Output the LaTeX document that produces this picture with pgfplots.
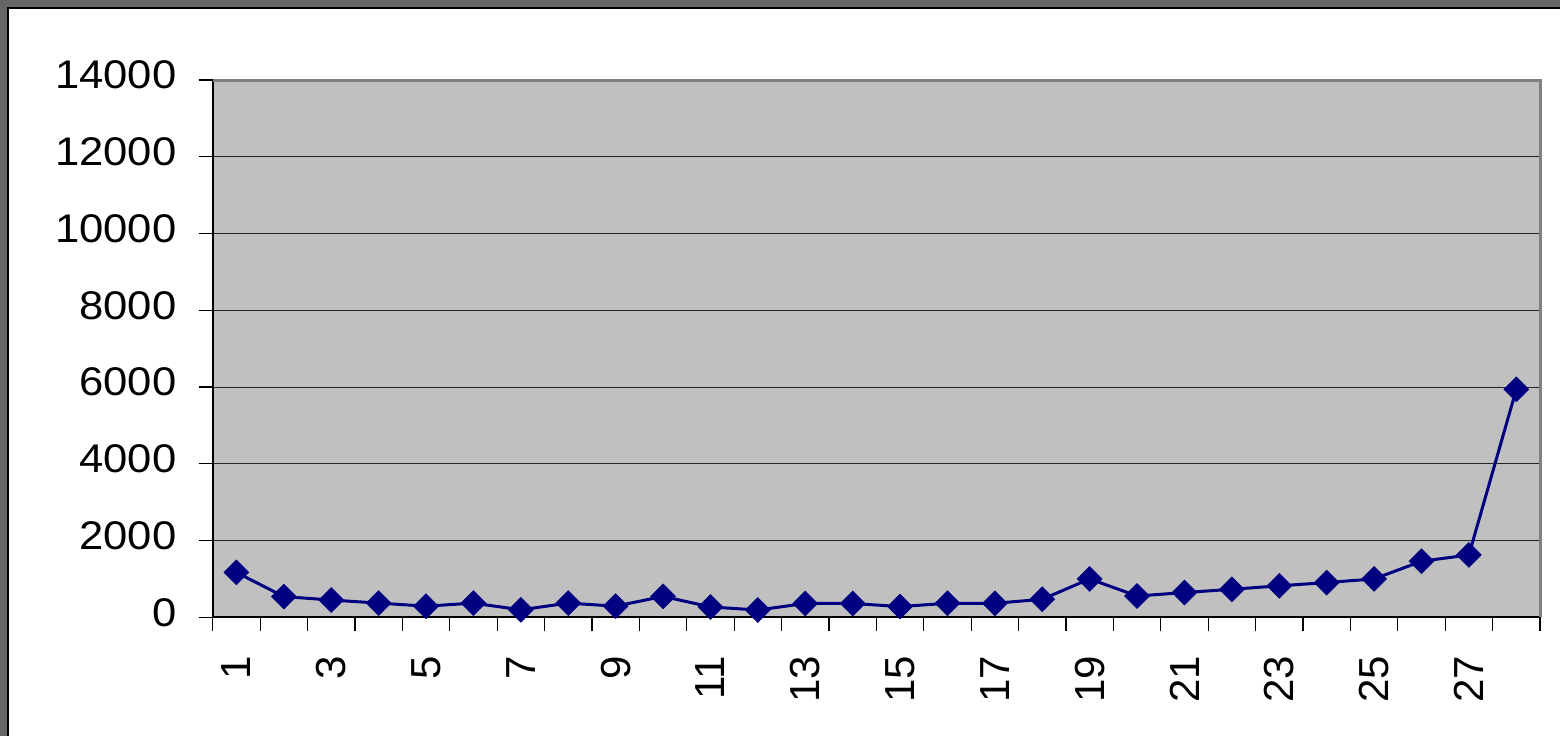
\documentclass[border=0pt]{standalone}
\usepackage{fontspec}
\setmainfont{Liberation Sans}
\newfontfamily\ylabfamily[FakeStretch=1.09]{Liberation Sans}
\usepackage{pgfplots}
\pgfplotsset{compat=1.18}
\definecolor{navyline}{RGB}{0,0,128}
\definecolor{plotbg}{RGB}{192,192,192}
\definecolor{framegray}{RGB}{102,102,102}
\definecolor{bordergray}{RGB}{128,128,128}
\newcommand{\yfont}{\ylabfamily\fontsize{20}{24}\selectfont}
\newcommand{\xfont}{\fontsize{21}{25}\selectfont}
\begin{document}
\begin{tikzpicture}
\useasboundingbox (0,0) rectangle (780pt,368pt);
\fill[framegray] (0,0) rectangle (780pt,368pt);
\fill[white] (4.4pt,0) rectangle (780pt,363.6pt);
\draw[black, line width=0.8pt] (4pt,0) -- (4pt,364pt) -- (780pt,364pt);
\begin{axis}[
  name=ax,
  at={(106.35pt,59.35pt)}, anchor=south west,
  width=663.65pt, height=268.65pt, scale only axis,
  xmin=0.5, xmax=28.5, ymin=0, ymax=14000,
  axis background/.style={fill=plotbg},
  axis x line*=bottom, axis y line*=left,
  axis line style={-, black, line width=1pt},
  ytick={0,2000,4000,6000,8000,10000,12000,14000},
  yticklabels={0,2000,4000,6000,8000,10000,12000,14000},
  scaled y ticks=false,
  xtick={1,3,5,7,9,11,13,15,17,19,21,23,25,27},
  xticklabels={1,3,5,7,9,11,13,15,17,19,21,23,25,27},
  minor xtick={0.5,1.5,...,28.5},
  major x tick style={draw=none},
  tick align=outside,
  major tick length=7pt, minor tick length=7pt,
  tick style={black, line width=0.6pt},
  ymajorgrids, major grid style={black!85, line width=0.5pt},
  yticklabel style={font=\yfont, anchor=east, inner sep=0pt, xshift=-11pt, yshift=2.5pt},
  xticklabel style={font=\xfont, yshift=-12pt, rotate=90, anchor=east, inner sep=0pt},
]
\addplot[color=navyline, line width=1.5pt, mark=square*, mark size=4.4pt,
  mark options={rotate=45, fill=navyline, draw=navyline, line width=0.3pt}]
  coordinates {
  (1,1170) (2,540) (3,450) (4,370) (5,290) (6,370) (7,195) (8,370)
  (9,290) (10,545) (11,270) (12,190) (13,360) (14,360) (15,280) (16,365)
  (17,365) (18,470) (19,1000) (20,555) (21,645) (22,730) (23,820) (24,905)
  (25,1000) (26,1460) (27,1625) (28,5940)
  };
\end{axis}
\draw[bordergray, line width=1.5pt] (ax.south east) -- (ax.north east) -- (ax.north west);
\end{tikzpicture}
\end{document}
